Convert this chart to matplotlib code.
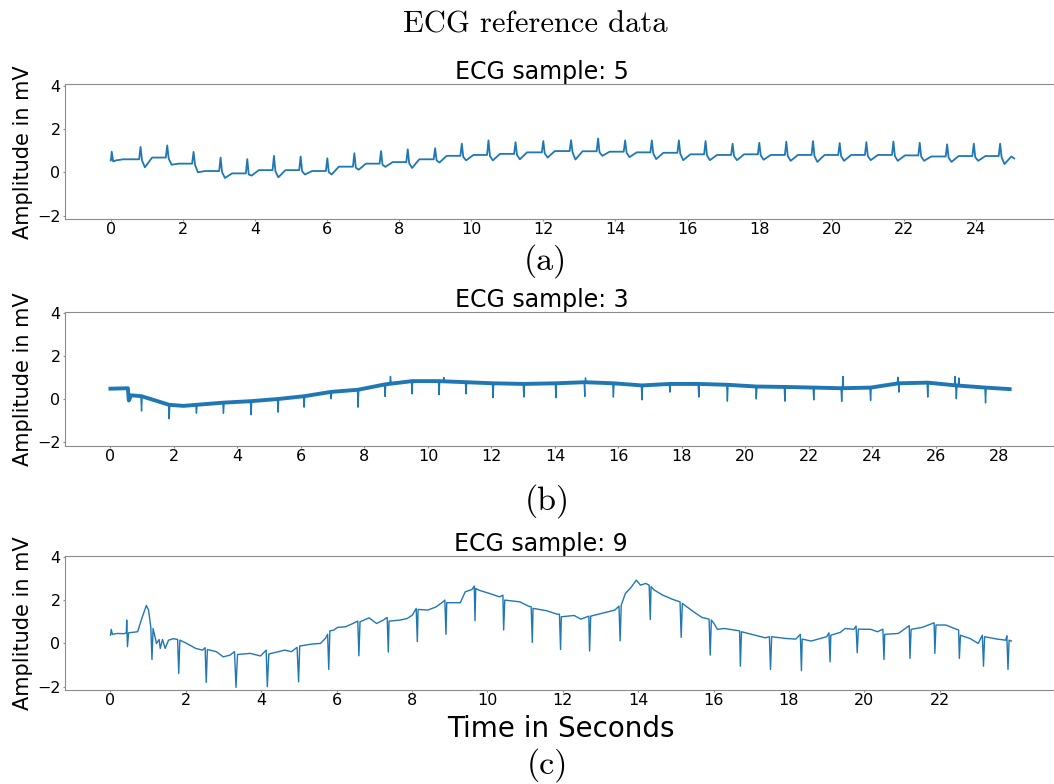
import matplotlib
matplotlib.use('Agg')
import matplotlib.pyplot as plt
import numpy as np

# ---- panel (a): ECG sample 5 (R peaks point up) ----
a_beat_t = [0.03, 0.83, 1.57, 2.30, 3.05, 3.79, 4.53, 5.27, 6.01, 6.76,
            7.50, 8.24, 9.00, 9.74, 10.48, 11.23, 12.00, 12.77, 13.52, 14.27,
            15.01, 15.76, 16.50, 17.25, 17.99, 18.74, 19.48, 20.22, 20.96, 21.71,
            22.44, 23.20, 23.94, 24.67]
a_peak = [0.95, 1.17, 1.24, 0.94, 0.68, 0.61, 0.76, 0.73, 0.65, 0.88,
          0.98, 1.06, 1.11, 1.32, 1.47, 1.39, 1.44, 1.48, 1.56, 1.47,
          1.47, 1.47, 1.44, 1.32, 1.36, 1.41, 1.44, 1.35, 1.39, 1.42,
          1.36, 1.29, 1.32, 1.32]
a_base = [0.55, 0.60, 0.68, 0.40, 0.06, -0.05, 0.10, 0.10, 0.06, 0.26,
          0.40, 0.47, 0.60, 0.76, 0.80, 0.85, 0.92, 0.98, 0.97, 0.95,
          0.92, 0.90, 0.83, 0.80, 0.83, 0.80, 0.80, 0.80, 0.80, 0.80,
          0.78, 0.73, 0.75, 0.75]
a_dip = [0.55, 0.23, 0.35, 0.00, -0.26, -0.15, -0.23, -0.10, -0.10, 0.12,
         0.25, 0.20, 0.45, 0.55, 0.55, 0.60, 0.68, 0.59, 0.76, 0.70,
         0.61, 0.56, 0.56, 0.56, 0.58, 0.53, 0.48, 0.53, 0.56, 0.53,
         0.53, 0.48, 0.53, 0.38]
a_tail_t = [24.98, 25.06]
a_tail_v = [0.73, 0.64]

# ---- panel (b): ECG sample 3 (noisy, small downward spikes) ----
b_beat_t = [0.98, 1.85, 2.71, 3.56, 4.43, 5.28, 6.10, 6.95, 7.80, 8.65,
            9.50, 10.35, 11.20, 12.05, 13.02, 14.03, 14.94, 15.84, 16.74, 17.62,
            18.53, 19.43, 20.34, 21.24, 22.15, 23.03, 23.94, 24.83, 25.74, 26.64,
            27.56]
b_trough = [-0.54, -0.90, -0.64, -0.64, -0.71, -0.59, -0.36, 0.03, -0.36, 0.14,
            0.26, 0.22, 0.26, 0.08, 0.11, 0.08, 0.14, 0.11, -0.02, 0.34,
            0.11, -0.08, 0.02, -0.08, -0.02, -0.09, -0.05, 0.34, 0.11, 0.03,
            -0.16]
b_beat_base = [0.15, -0.25, -0.25, -0.15, -0.08, 0.02, 0.15, 0.35, 0.45, 0.70,
               0.85, 0.85, 0.80, 0.75, 0.72, 0.75, 0.80, 0.75, 0.65, 0.72,
               0.72, 0.68, 0.60, 0.58, 0.55, 0.52, 0.55, 0.75, 0.78, 0.65,
               0.55]
b_knot_t = [0.0, 0.55, 0.58, 0.65, 2.30, 28.32]
b_knot_v = [0.50, 0.52, -0.05, 0.19, -0.30, 0.48]
b_up_t = [8.82, 10.50, 14.96, 23.07, 24.80, 26.60, 26.72]
b_up_v = [1.07, 1.02, 1.00, 1.07, 1.03, 1.07, 1.00]
b_up_base = [0.75, 0.85, 0.80, 0.52, 0.75, 0.65, 0.65]

# ---- panel (c): ECG sample 9 (traced vertices) ----
c_t = [0.00, 0.02, 0.05, 0.18, 0.36, 0.42, 0.43, 0.45, 0.48, 0.72,
       0.83, 0.95, 1.01, 1.07, 1.10, 1.13, 1.22, 1.29, 1.32, 1.38,
       1.45, 1.54, 1.67, 1.78, 1.81, 1.84, 1.99, 2.26, 2.44, 2.51,
       2.54, 2.57, 2.81, 2.99, 3.17, 3.29, 3.33, 3.37, 3.71, 3.98,
       4.13, 4.16, 4.20, 4.62, 4.80, 4.95, 4.99, 5.02, 5.34, 5.57,
       5.70, 5.76, 5.79, 5.82, 5.93, 6.02, 6.24, 6.43, 6.56, 6.59,
       6.62, 6.86, 7.06, 7.24, 7.34, 7.37, 7.39, 7.69, 7.87, 8.01,
       8.11, 8.14, 8.16, 8.42, 8.64, 8.82, 8.87, 8.90, 8.92, 9.28,
       9.41, 9.59, 9.65, 9.67, 9.69, 9.77, 10.05, 10.32, 10.41, 10.43,
       10.46, 10.86, 11.09, 11.16, 11.19, 11.21, 11.57, 11.85, 11.91, 11.94,
       11.96, 12.30, 12.48, 12.69, 12.71, 12.74, 13.11, 13.38, 13.49, 13.52,
       13.55, 13.66, 13.79, 13.95, 14.06, 14.20, 14.29, 14.32, 14.34, 14.43,
       14.65, 14.92, 15.11, 15.14, 15.17, 15.29, 15.47, 15.69, 15.88, 15.91,
       15.94, 16.01, 16.10, 16.28, 16.55, 16.69, 16.71, 16.74, 17.10, 17.37,
       17.48, 17.51, 17.54, 17.91, 18.18, 18.30, 18.33, 18.35, 18.59, 18.77,
       19.00, 19.06, 19.09, 19.11, 19.36, 19.49, 19.72, 19.78, 19.81, 19.84,
       20.17, 20.35, 20.49, 20.52, 20.54, 20.90, 21.19, 21.21, 21.24, 21.53,
       21.85, 21.87, 21.90, 22.16, 22.39, 22.50, 22.52, 22.55, 22.66, 22.80,
       23.02, 23.13, 23.16, 23.19, 23.52, 23.75, 23.78, 23.81, 23.84, 23.90]
c_v = [0.38, 0.65, 0.42, 0.46, 0.45, 0.49, 1.08, -0.15, 0.49, 0.54,
       1.15, 1.75, 1.54, 0.74, -0.74, 0.69, 0.00, 0.18, -0.23, 0.18,
       -0.23, 0.15, 0.22, 0.18, -1.38, 0.15, 0.03, -0.23, -0.31, -0.20,
       -1.80, -0.28, -0.38, -0.62, -0.54, -0.38, -2.03, -0.51, -0.46, -0.58,
       -0.31, -2.00, -0.49, -0.31, -0.38, -0.18, -1.77, -0.12, -0.03, 0.00,
       0.23, 0.42, -1.20, 0.58, 0.62, 0.74, 0.77, 0.92, 1.03, -0.57,
       1.00, 1.18, 0.92, 1.08, 1.20, -0.40, 1.03, 1.08, 1.15, 1.31,
       1.62, 0.08, 1.57, 1.54, 1.69, 1.92, 2.00, 0.42, 1.88, 1.88,
       2.38, 2.49, 2.65, 1.05, 2.54, 2.46, 2.31, 2.15, 2.23, 0.62,
       2.00, 1.92, 1.72, 1.69, 0.05, 1.62, 1.51, 1.35, 1.35, -0.28,
       1.23, 1.29, 1.12, 1.26, -0.35, 1.26, 1.42, 1.54, 1.72, 0.12,
       1.77, 2.31, 2.54, 2.92, 2.69, 2.77, 2.69, 1.11, 2.62, 2.46,
       2.23, 2.03, 1.92, 0.28, 1.85, 1.69, 1.46, 1.20, 1.12, -0.54,
       1.08, 0.92, 0.65, 0.69, 0.62, 0.58, -1.05, 0.54, 0.38, 0.26,
       0.31, -1.20, 0.31, 0.23, 0.20, 0.42, -1.26, 0.20, 0.11, 0.20,
       0.31, 0.49, -0.85, 0.38, 0.51, 0.69, 0.65, 0.80, -0.43, 0.66,
       0.65, 0.54, 0.66, -0.74, 0.42, 0.46, 0.82, -0.69, 0.65, 0.74,
       0.95, -0.46, 0.85, 0.85, 0.69, 0.62, -0.69, 0.38, 0.31, 0.23,
       0.00, 0.38, -1.05, 0.31, 0.20, 0.15, 0.35, -1.20, 0.15, 0.11]

titles = ['ECG sample: 5', 'ECG sample: 3', 'ECG sample: 9']
panel_tags = ['(a)', '(b)', '(c)']

LINE = '#1f77b4'
SPINE = '#8c8c8c'


def trace_a():
    t, v = [0.0], [a_base[0]]
    n = len(a_beat_t)
    for i, tb in enumerate(a_beat_t):
        t += [max(tb - 0.04, 0.01), tb, tb + 0.04, tb + 0.12]
        v += [a_base[i], a_peak[i], a_base[i] - 0.05, a_dip[i]]
        if i + 1 < n:
            t.append(tb + 0.32)
            v.append(a_base[i + 1])
    t += a_tail_t
    v += a_tail_v
    return t, v


def trace_b(with_spikes=True):
    pts = list(zip(b_knot_t, b_knot_v))
    for tb, lo, base in zip(b_beat_t, b_trough, b_beat_base):
        if with_spikes:
            pts += [(tb - 0.02, base), (tb, lo), (tb + 0.02, base)]
        else:
            pts.append((tb, base))
    if with_spikes:
        for tb, hi, base in zip(b_up_t, b_up_v, b_up_base):
            pts += [(tb - 0.02, base), (tb, hi), (tb + 0.02, base)]
    pts.sort()
    return [p[0] for p in pts], [p[1] for p in pts]


fig = plt.figure(figsize=(10.54, 7.84), dpi=100)

# axes boxes (the right edge runs off the canvas, as in the reference crop)
boxes = [[0.0621, 0.7207, 0.943, 0.1716],
         [0.0621, 0.4315, 0.9385, 0.1702],
         [0.0621, 0.1199, 0.9402, 0.1713]]
title_x = [0.479, 0.482, 0.480]
traces = [trace_a(), trace_b(), (c_t, c_v)]
widths = [1.3, 1.0, 1.0]
tag_pos = [(0.517, 0.6559), (0.519, 0.3501), (0.519, 0.0140)]

for k in range(3):
    ax = fig.add_axes(boxes[k])
    t, v = traces[k]
    if k == 1:
        # the noisy band of sample 3 drawn as a broad stroke under the trace
        bt, bv = trace_b(with_spikes=False)
        ax.plot(bt, bv, color=LINE, lw=2.8, solid_joinstyle='round')
    ax.plot(t, v, color=LINE, lw=widths[k])
    ax.set_ylim(-2.15, 4.05)
    ax.set_yticks([-2, 0, 2, 4])
    ax.set_xticks(np.arange(0, max(t), 2))
    for s in ax.spines.values():
        s.set_color(SPINE)
    ax.tick_params(axis='both', length=1.5, color=SPINE, labelsize=11.5)
    ax.tick_params(axis='x', pad=0.8)
    ax.tick_params(axis='y', pad=2)
    ax.set_ylabel('Amplitude in mV', fontsize=15, labelpad=3)
    ax.set_title(titles[k], fontsize=17, pad=3, x=title_x[k])
    if k == 2:
        ax.set_xlabel('Time in Seconds', fontsize=20, labelpad=5)
    fig.text(tag_pos[k][0], tag_pos[k][1], panel_tags[k], family='cmr10',
             fontsize=24.5, ha='center', va='baseline')

fig.text(0.5076, 0.9588, 'ECG reference data', family='cmr10', fontsize=22,
         ha='center', va='baseline')

fig.savefig('out.png', dpi=100)
